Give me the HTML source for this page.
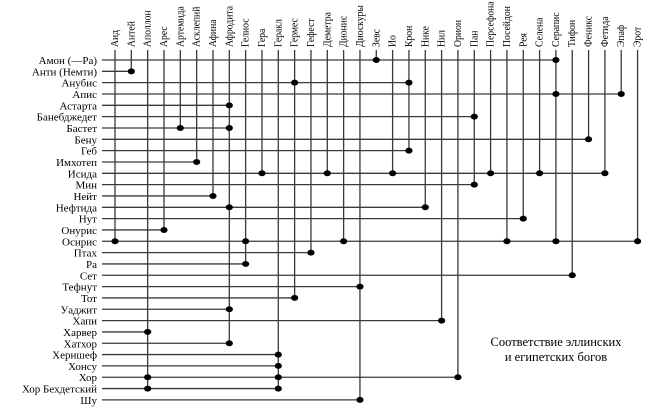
<!DOCTYPE html>
<html><head><meta charset="utf-8"><style>
html,body{margin:0;padding:0;background:#fff;}
svg{display:block;}
text{font-family:"Liberation Serif",serif;fill:#000;}
</style></head><body>
<svg id="chart" width="650" height="410" viewBox="0 0 650 410">
<g id="lines"></g><g id="dots"></g><g id="labels"></g>
<text x="556" y="346" text-anchor="middle" font-size="12.5">Соответствие эллинских</text>
<text x="556" y="361" text-anchor="middle" font-size="12.5">и египетских богов</text>
</svg>
<script>
const greekGods = ["Аид","Антей","Аполлон","Арес","Артемида","Асклепий","Афина","Афродита","Гелиос","Гера","Геракл","Гермес","Гефест","Деметра","Дионис","Диоскуры","Зевс","Ио","Крон","Нике","Нил","Орион","Пан","Персефона","Посейдон","Рея","Селена","Серапис","Тифон","Феникс","Фетида","Эпаф","Эрот"];
const egyptGods = ["Амон (—Ра)","Анти (Немти)","Анубис","Апис","Астарта","Банебджедет","Бастет","Бену","Геб","Имхотеп","Исида","Мин","Нейт","Нефтида","Нут","Онурис","Осирис","Птах","Ра","Сет","Тефнут","Тот","Уаджит","Хапи","Харвер","Хатхор","Херишеф","Хонсу","Хор","Хор Бехдетский","Шу"];
const links = [
["Амон (—Ра)","Зевс"],["Амон (—Ра)","Серапис"],
["Анти (Немти)","Антей"],
["Анубис","Гермес"],["Анубис","Крон"],
["Апис","Серапис"],["Апис","Эпаф"],
["Астарта","Афродита"],
["Банебджедет","Пан"],
["Бастет","Артемида"],["Бастет","Афродита"],
["Бену","Феникс"],
["Геб","Крон"],
["Имхотеп","Асклепий"],
["Исида","Гера"],["Исида","Деметра"],["Исида","Ио"],["Исида","Персефона"],["Исида","Селена"],["Исида","Фетида"],
["Мин","Пан"],
["Нейт","Афина"],
["Нефтида","Афродита"],["Нефтида","Нике"],
["Нут","Рея"],
["Онурис","Арес"],
["Осирис","Аид"],["Осирис","Гелиос"],["Осирис","Дионис"],["Осирис","Посейдон"],["Осирис","Серапис"],["Осирис","Эрот"],
["Птах","Гефест"],
["Ра","Гелиос"],
["Сет","Тифон"],
["Тефнут","Диоскуры"],
["Тот","Гермес"],
["Уаджит","Афродита"],
["Хапи","Нил"],
["Харвер","Аполлон"],
["Хатхор","Афродита"],
["Херишеф","Геракл"],
["Хонсу","Геракл"],
["Хор","Аполлон"],["Хор","Геракл"],["Хор","Орион"],
["Хор Бехдетский","Аполлон"],["Хор Бехдетский","Геракл"],
["Шу","Диоскуры"]
];
const NS="http://www.w3.org/2000/svg";
const xCol = i => 115 + i*16.33;
const yRow = j => 60 + j*11.33;
const colTop = 50, rowLeft = 102;
const lg=document.getElementById('lines'), dg=document.getElementById('dots'), tg=document.getElementById('labels');
function mk(tag,attrs,parent){const e=document.createElementNS(NS,tag);for(const k in attrs)e.setAttribute(k,attrs[k]);parent.appendChild(e);return e;}
const colMax = greekGods.map(()=>-1), rowMax = egyptGods.map(()=>-1);
links.forEach(([e,g])=>{const j=egyptGods.indexOf(e), i=greekGods.indexOf(g);
 if(j>colMax[i])colMax[i]=j; if(i>rowMax[j])rowMax[j]=i;});
greekGods.forEach((g,i)=>{
 const x=xCol(i);
 const t=mk('text',{x:0,y:0,'font-size':11,'text-anchor':'start',transform:`translate(${x+3},47) rotate(-90) scale(0.88,1)`},tg);
 t.textContent=g;
 
 
 const l=mk('line',{x1:x,x2:x,y1:colTop,y2:yRow(colMax[i]),stroke:'#3a3a3a','stroke-width':1.3},lg);
 
 
});
egyptGods.forEach((e,j)=>{
 const y=yRow(j);
 const t=mk('text',{x:97,y:y+4,'font-size':11,'text-anchor':'end'},tg);
 t.textContent=e;
 
 
 const l=mk('line',{x1:rowLeft,x2:xCol(rowMax[j]),y1:y,y2:y,stroke:'#3a3a3a','stroke-width':1.3},lg);
 
 
});
links.forEach(([e,g],k)=>{
 const d=mk('ellipse',{cx:xCol(greekGods.indexOf(g)),cy:yRow(egyptGods.indexOf(e)),rx:3.6,ry:3,fill:'#000'},dg);
 
 
});
</script>
</body></html>
